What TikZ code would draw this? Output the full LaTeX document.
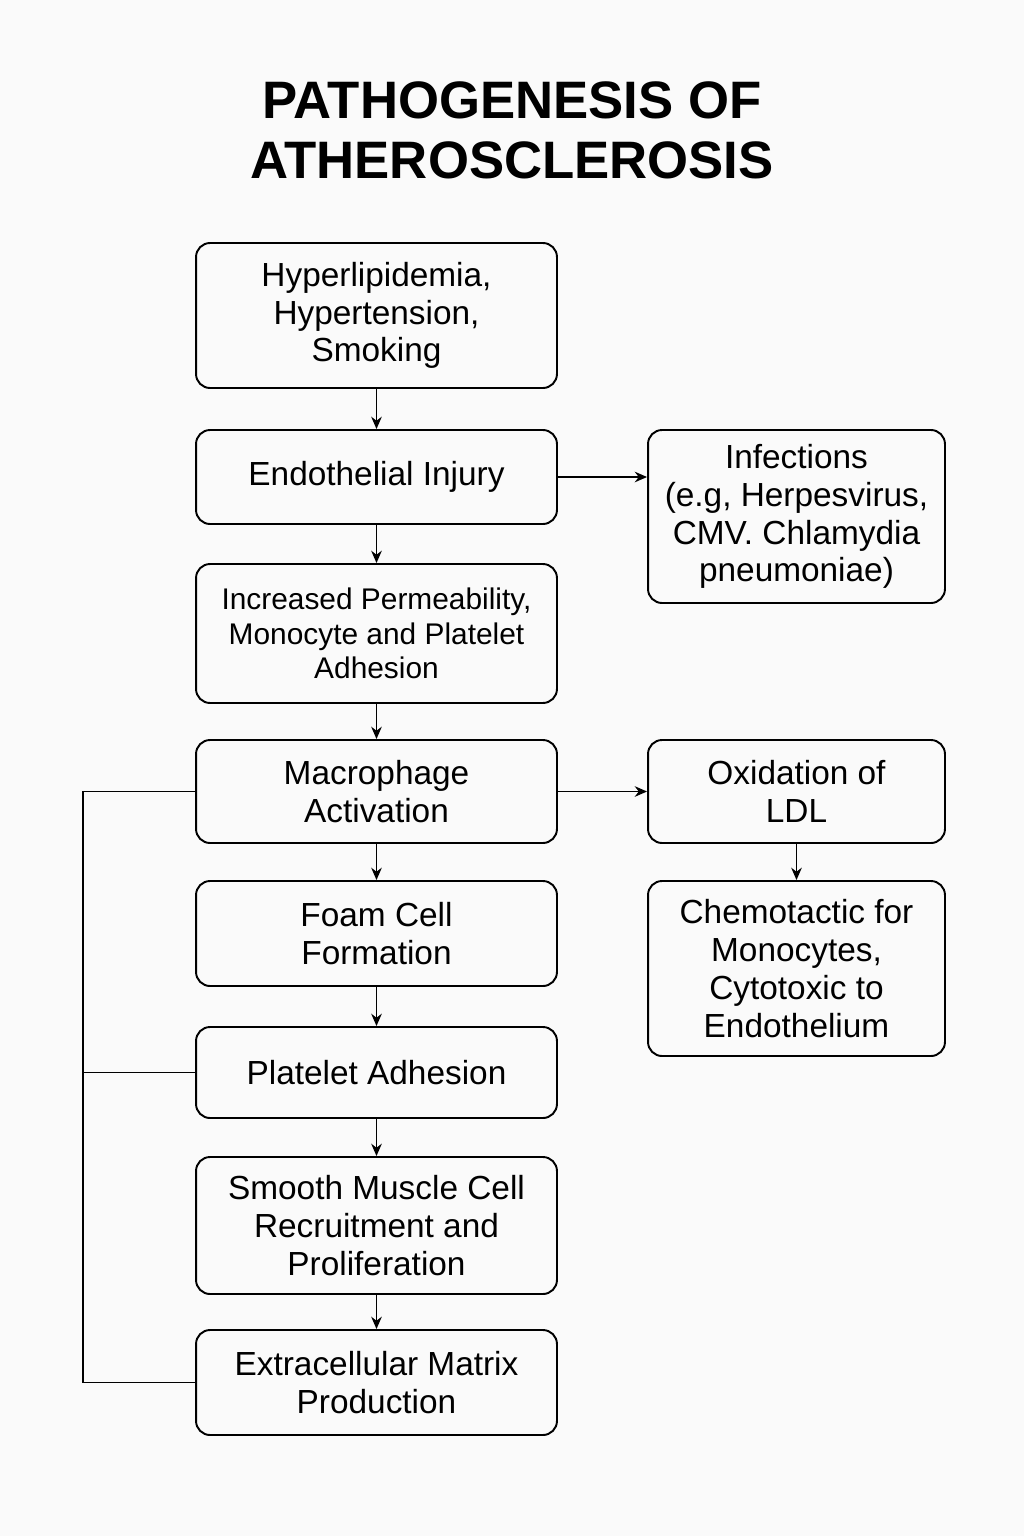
\documentclass[tikz,border=0pt]{standalone}
\usepackage{fontspec}
\setmainfont{Liberation Sans}
\usetikzlibrary{arrows.meta,shapes}
\tikzstyle{stepnode}=[draw,line width=1.1pt,rounded corners=8pt,align=center,font=\fontsize{19}{21.5}\selectfont,inner sep=2pt]
\tikzstyle{leftnode}=[stepnode,minimum width=7.22cm]
\tikzstyle{rightnode}=[stepnode,minimum width=5.94cm]
\tikzstyle{edge} = [draw,line width=1.1pt,-{Stealth[length=7pt,width=6pt]}]
\tikzstyle{link} = [draw,line width=1.1pt]

\begin{document}
\begin{tikzpicture}[x=0.02cm, y=-0.02cm]

    \useasboundingbox[fill=black!2] (0,0) rectangle (1024,1536);

    \node[font=\fontsize{30}{34}\bfseries, align=center] (title) at (512,130)
        {PATHOGENESIS OF\\ATHEROSCLEROSIS};

    % main chain
    \foreach \y/\h/\name/\txt in {315.5/145/risk/{Hyperlipidemia,\\Hypertension,\\Smoking},
                                 477/94/inj/{Endothelial Injury},
                                 791.5/103/mac/{Macrophage\\Activation},
                                 933.5/105/foam/{Foam Cell\\Formation},
                                 1072.5/91/plt/{Platelet Adhesion},
                                 1225.5/137/smc/{Smooth Muscle Cell\\Recruitment and\\Proliferation},
                                 1382.5/105/ecm/{Extracellular Matrix\\Production}}
        \node[leftnode, minimum height=\h*0.02cm] (\name) at (376.5,\y) {\txt};

    \node[leftnode, minimum height=2.78cm, font=\fontsize{17}{19.5}\selectfont] (perm) at (376.5,633.5)
        {Increased Permeability,\\Monocyte and Platelet\\Adhesion};

    % side boxes
    \foreach \y/\h/\name/\txt in {516.5/173/inf/{Infections\\(e.g, Herpesvirus,\\CMV. Chlamydia\\pneumoniae)},
                                 791.5/103/ox/{Oxidation of\\LDL},
                                 968.5/175/chem/{Chemotactic for\\Monocytes,\\Cytotoxic to\\Endothelium}}
        \node[rightnode, minimum height=\h*0.02cm] (\name) at (796.5,\y) {\txt};

    \foreach \source/\dest in {risk/inj, inj/perm, perm/mac, mac/foam, foam/plt, plt/smc, smc/ecm, ox/chem}
        \path[edge] (\source) -- (\dest);

    \path[edge] (inj.east) -- (inj.east -| inf.west);
    \path[edge] (mac.east) -- (ox.west);

    % feedback bus on the left
    \coordinate (bus) at (83,791.5);
    \path[link] (mac.west) -- (bus) |- (ecm.west);
    \path[link] (plt.west) -- (plt.west -| bus);

\end{tikzpicture}
\end{document}
